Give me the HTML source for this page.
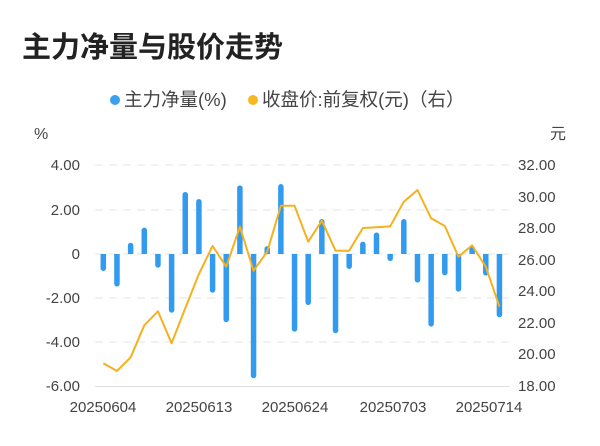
<!DOCTYPE html>
<html><head><meta charset="utf-8"><style>
html,body{margin:0;padding:0;background:#fff;}
svg{display:block;font-family:"Liberation Sans","Noto Sans CJK SC",sans-serif;}
</style></head><body>
<svg width="600" height="446" viewBox="0 0 600 446" xmlns="http://www.w3.org/2000/svg">
<text x="22" y="57" font-size="29" font-weight="bold" fill="#222">主力净量与股价走势</text>
<circle cx="115" cy="100" r="5" fill="#3aa0f0"/>
<text x="124" y="106" font-size="18.5" fill="#444">主力净量(%)</text>
<circle cx="253" cy="100" r="5" fill="#f7b722"/>
<text x="262" y="106" font-size="18.5" fill="#444">收盘价:前复权(元)（右）</text>
<text x="34" y="139" font-size="16" fill="#444">%</text>
<text x="550" y="139" font-size="16" fill="#444">元</text>
<g stroke="#e6e6e6" stroke-width="1" stroke-dasharray="8,6">
<line x1="95" y1="165" x2="510" y2="165"/><line x1="95" y1="210" x2="510" y2="210"/><line x1="95" y1="254" x2="510" y2="254"/><line x1="95" y1="298" x2="510" y2="298"/><line x1="95" y1="342" x2="510" y2="342"/>
</g>
<line x1="95" y1="386.5" x2="510" y2="386.5" stroke="#e0e0e0"/>
<g font-size="15" fill="#444" text-anchor="end">
<text x="80" y="170">4.00</text><text x="80" y="215">2.00</text><text x="80" y="259">0</text><text x="80" y="303">-2.00</text><text x="80" y="347">-4.00</text><text x="80" y="391">-6.00</text>
</g>
<g font-size="15" fill="#444">
<text x="518" y="170">32.00</text><text x="518" y="202">30.00</text><text x="518" y="233">28.00</text><text x="518" y="265">26.00</text><text x="518" y="296">24.00</text><text x="518" y="328">22.00</text><text x="518" y="359">20.00</text><text x="518" y="391">18.00</text>
</g>
<g font-size="15" fill="#444" text-anchor="middle">
<text x="103" y="412">20250604</text><text x="199" y="412">20250613</text><text x="295" y="412">20250624</text><text x="393" y="412">20250703</text><text x="489" y="412">20250714</text>
</g>
<g id="bars" fill="#329bef"></g>
<polyline id="ln" fill="none" stroke="#f5b120" stroke-width="2" stroke-linejoin="round"/>
<script>
var v=[-0.77,-1.48,0.51,1.2,-0.62,-2.67,2.82,2.5,-1.76,-3.1,3.12,-5.65,0.36,3.18,-3.53,-2.32,1.59,-3.6,-0.68,0.56,0.98,-0.32,1.59,-1.3,-3.3,-0.97,-1.71,0.33,-0.98,-2.88];
var ly=[363.3,371,357.3,325.3,311.3,343.3,308.3,274,246,266.7,226.7,270.7,251.7,205.7,205.7,241.7,220.7,250.7,250.7,228,227.3,226.3,201.7,190,218.3,226,256.7,245.3,266.7,306.7];
var NS='http://www.w3.org/2000/svg';
var g=document.getElementById('bars'),p=[];
for(var i=0;i<30;i++){var x=103.3+i*13.66;var y=254-v[i]*22;var w=5.5,r=2.75;
var d;
if(v[i]>0){d='M'+(x-r)+',254 V'+(y+r)+' A'+r+','+r+' 0 0 1 '+(x+r)+','+(y+r)+' V254 Z';}
else{d='M'+(x-r)+',254 V'+(y-r)+' A'+r+','+r+' 0 0 0 '+(x+r)+','+(y-r)+' V254 Z';}
var e=document.createElementNS(NS,'path');e.setAttribute('d',d);g.appendChild(e);p.push(x+','+ly[i]);}
document.getElementById('ln').setAttribute('points',p.join(' '));
</script>
</svg>
</body></html>
